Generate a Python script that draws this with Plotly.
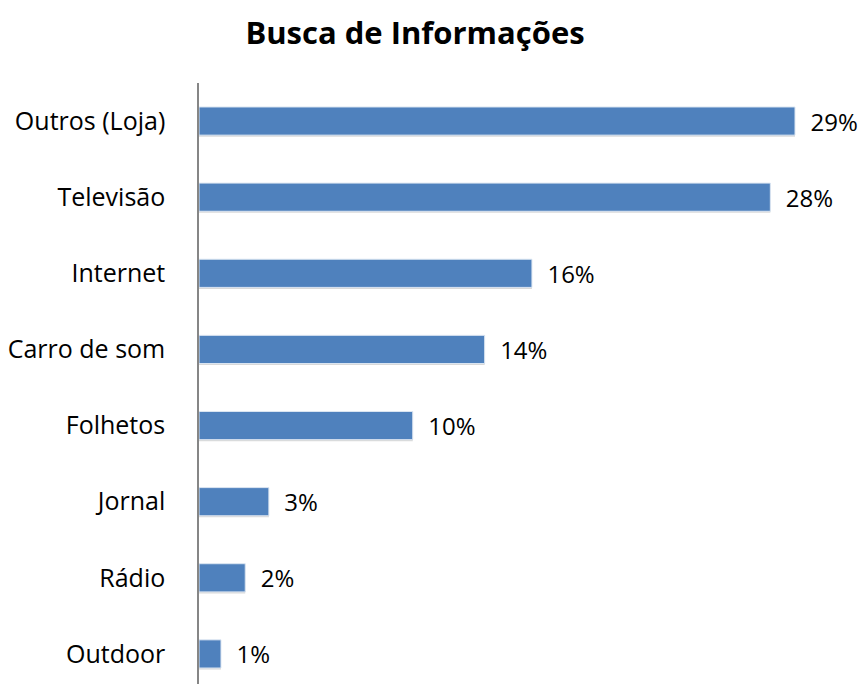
import plotly.graph_objects as go

categories = ["Outros (Loja)", "Televisão", "Internet", "Carro de som",
              "Folhetos", "Jornal", "Rádio", "Outdoor"]
values = [29.0, 27.8, 16.2, 13.9, 10.4, 3.4, 2.25, 1.07]
labels = ["29%", "28%", "16%", "14%", "10%", "3%", "2%", "1%"]

FONT = "'Open Sans', sans-serif"
W, H = 868, 684
PAGE_OFF = 8  # default body margin of the page

fig = go.Figure()
# soft shadow
fig.add_trace(go.Bar(
    y=categories, x=values, orientation="h",
    marker=dict(color="rgba(0,0,0,0.15)", line=dict(width=0)),
    width=0.37, offset=-0.165,
    hoverinfo="skip", showlegend=False,
))
fig.add_trace(go.Bar(
    y=categories, x=values, orientation="h",
    marker=dict(color="#4F81BD", line=dict(color="#DCE6F2", width=1)),
    width=0.37, offset=-0.185,
    text=["\u00a0\u00a0" + t for t in labels], textposition="outside", cliponaxis=False,
    constraintext="none",
    textfont=dict(family=FONT, size=24, color="#000000"),
    showlegend=False,
))

left = 199 - PAGE_OFF
right = 72
fig.update_layout(
    width=W, height=H,
    paper_bgcolor="white", plot_bgcolor="white",
    margin=dict(l=left, r=right, t=83 - PAGE_OFF, b=0),
    barmode="overlay",
    title=dict(text="<b>Busca de Informações</b>", x=(415 - PAGE_OFF) / W, xanchor="center",
               y=1 - (33 - PAGE_OFF) / H, yanchor="middle",
               font=dict(family=FONT, size=31, color="#000000")),
    xaxis=dict(range=[0, 29.0 * (W - left - right) / 596], visible=False, fixedrange=True),
    yaxis=dict(
        type="category", categoryorder="array", categoryarray=categories,
        range=[7.5, -0.5],
        showline=True, linecolor="#868686", linewidth=1.5,
        ticks="", showgrid=False, zeroline=False,
        tickfont=dict(family=FONT, size=25, color="#000000"),
        ticklabelstandoff=27,
    ),
)

fig.write_html("out.html")
